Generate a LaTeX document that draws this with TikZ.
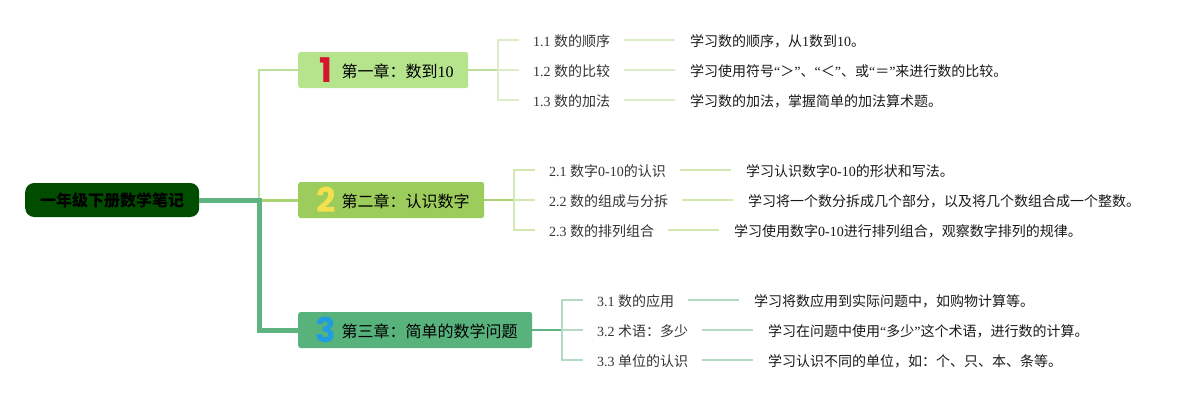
\documentclass[tikz,border=0pt]{standalone}
\usepackage{fontspec}
\setmainfont{Liberation Serif}
\newfontfamily\cjk{Noto Sans CJK SC}
\newfontfamily\digitfont{Poppins}
\newcommand\zh[1]{{\cjk #1}}

\definecolor{rootgreen}{HTML}{004D00}
\definecolor{chapA}{HTML}{B5E48C}
\definecolor{chapB}{HTML}{9CCC5C}
\definecolor{chapC}{HTML}{58B27C}
\definecolor{lineA}{HTML}{BCE09A}
\definecolor{lineB}{HTML}{A8D470}
\definecolor{lineC}{HTML}{5EB380}
\definecolor{leafA}{HTML}{DDECC8}
\definecolor{leafB}{HTML}{D2E8B0}
\definecolor{leafC}{HTML}{B4DAC4}
\definecolor{numA}{HTML}{D5152B}
\definecolor{numB}{HTML}{F4DF4E}
\definecolor{numC}{HTML}{1F9DE0}

\tikzset{
  rootbox/.style={fill=rootgreen,rounded corners=9pt,minimum width=174pt,minimum height=34pt,
    inner sep=0pt,anchor=west,font=\fontsize{16}{16}\selectfont\bfseries\cjk},
  chapbox/.style={rounded corners=2.5pt,minimum height=36pt,inner sep=0pt,anchor=west,
    font=\fontsize{16}{16}\selectfont},
  digit/.style={inner sep=0pt,font=\fontsize{34}{34}\selectfont\bfseries\digitfont},
  sublabel/.style={inner xsep=14pt,inner ysep=0pt,anchor=west,text=black!80,
    text height=13pt,text depth=1pt,font=\fontsize{14}{14}\selectfont},
  detail/.style={sublabel,inner xsep=15pt,text=black!90}
}

\begin{document}
\begin{tikzpicture}[x=1pt,y=-1pt]
\useasboundingbox (0,0) rectangle (1200,400);

\node[rootbox] (root) at (25,200) {一年级下册数学笔记};
\coordinate (fork) at (259,200);

\node[chapbox,fill=chapA,minimum width=170pt] (chA) at (298,70) {};
\node[chapbox,fill=chapB,minimum width=186pt] (chB) at (298,200) {};
\node[chapbox,fill=chapC,minimum width=234pt] (chC) at (298,330) {};

\node[digit,text=numA] (digA) at (326,70) {1};
\node[digit,text=numB] (digB) at (326,200) {2};
\node[digit,text=numC] (digC) at (326,330) {3};

\node[chapbox] (titleA) at (341.5,71) {\zh{第一章：数到}10};
\node[chapbox] (titleB) at (341.5,201) {\zh{第二章：认识数字}};
\node[chapbox] (titleC) at (341.5,331) {\zh{第三章：简单的数学问题}};

%%

\draw[lineA,line width=2.5pt] (fork) |- (chA.west);
\draw[lineB,line width=3pt] (fork) -- (chB.west);
\draw[lineC,line width=5pt] (root.east) -- (fork) |- (chC.west);

%%

\coordinate (forkA) at (498,70);
\coordinate (forkB) at (514,200);
\coordinate (forkC) at (562,330);

\node[sublabel] (subA1) at (519,40) {1.1 \zh{数的顺序}};
\node[sublabel] (subA2) at (519,70) {1.2 \zh{数的比较}};
\node[sublabel] (subA3) at (519,100) {1.3 \zh{数的加法}};
\node[detail] (detA1) at (675,40) {\zh{学习数的顺序，从}1\zh{数到}10\zh{。}};
\node[detail] (detA2) at (675,70) {\zh{学习使用符号}“\zh{＞}”\zh{、}“\zh{＜}”\zh{、或}“\zh{＝}”\zh{来进行数的比较。}};
\node[detail] (detA3) at (675,100) {\zh{学习数的加法，掌握简单的加法算术题。}};

\draw[lineA,line width=2pt] (chA.east) -- (forkA);
\draw[leafA,line width=2pt] (forkA) |- (subA1.west);
\draw[leafA,line width=2pt] (forkA) -- (subA2.west);
\draw[leafA,line width=2pt] (forkA) |- (subA3.west);
\draw[leafA,line width=2pt] (subA1.east) -- (detA1.west);
\draw[leafA,line width=2pt] (subA2.east) -- (detA2.west);
\draw[leafA,line width=2pt] (subA3.east) -- (detA3.west);

%%

\node[sublabel] (subB1) at (535,170) {2.1 \zh{数字}0-10\zh{的认识}};
\node[sublabel] (subB2) at (535,200) {2.2 \zh{数的组成与分拆}};
\node[sublabel] (subB3) at (535,230) {2.3 \zh{数的排列组合}};
\node[detail] (detB1) at (731,170) {\zh{学习认识数字}0-10\zh{的形状和写法。}};
\node[detail] (detB2) at (733,200) {\zh{学习将一个数分拆成几个部分，以及将几个数组合成一个整数。}};
\node[detail] (detB3) at (719,230) {\zh{学习使用数字}0-10\zh{进行排列组合，观察数字排列的规律。}};

\draw[lineB,line width=2pt] (chB.east) -- (forkB);
\draw[leafB,line width=2pt] (forkB) |- (subB1.west);
\draw[leafB,line width=2pt] (forkB) -- (subB2.west);
\draw[leafB,line width=2pt] (forkB) |- (subB3.west);
\draw[leafB,line width=2pt] (subB1.east) -- (detB1.west);
\draw[leafB,line width=2pt] (subB2.east) -- (detB2.west);
\draw[leafB,line width=2pt] (subB3.east) -- (detB3.west);

%%

\node[sublabel] (subC1) at (583,300) {3.1 \zh{数的应用}};
\node[sublabel] (subC2) at (583,330) {3.2 \zh{术语：多少}};
\node[sublabel] (subC3) at (583,360) {3.3 \zh{单位的认识}};
\node[detail] (detC1) at (739,300) {\zh{学习将数应用到实际问题中，如购物计算等。}};
\node[detail] (detC2) at (753,330) {\zh{学习在问题中使用}“\zh{多少}”\zh{这个术语，进行数的计算。}};
\node[detail] (detC3) at (753,360) {\zh{学习认识不同的单位，如：个、只、本、条等。}};

\draw[lineC,line width=2pt] (chC.east) -- (forkC);
\draw[leafC,line width=2pt] (forkC) |- (subC1.west);
\draw[leafC,line width=2pt] (forkC) -- (subC2.west);
\draw[leafC,line width=2pt] (forkC) |- (subC3.west);
\draw[leafC,line width=2pt] (subC1.east) -- (detC1.west);
\draw[leafC,line width=2pt] (subC2.east) -- (detC2.west);
\draw[leafC,line width=2pt] (subC3.east) -- (detC3.west);

\end{tikzpicture}
\end{document}
